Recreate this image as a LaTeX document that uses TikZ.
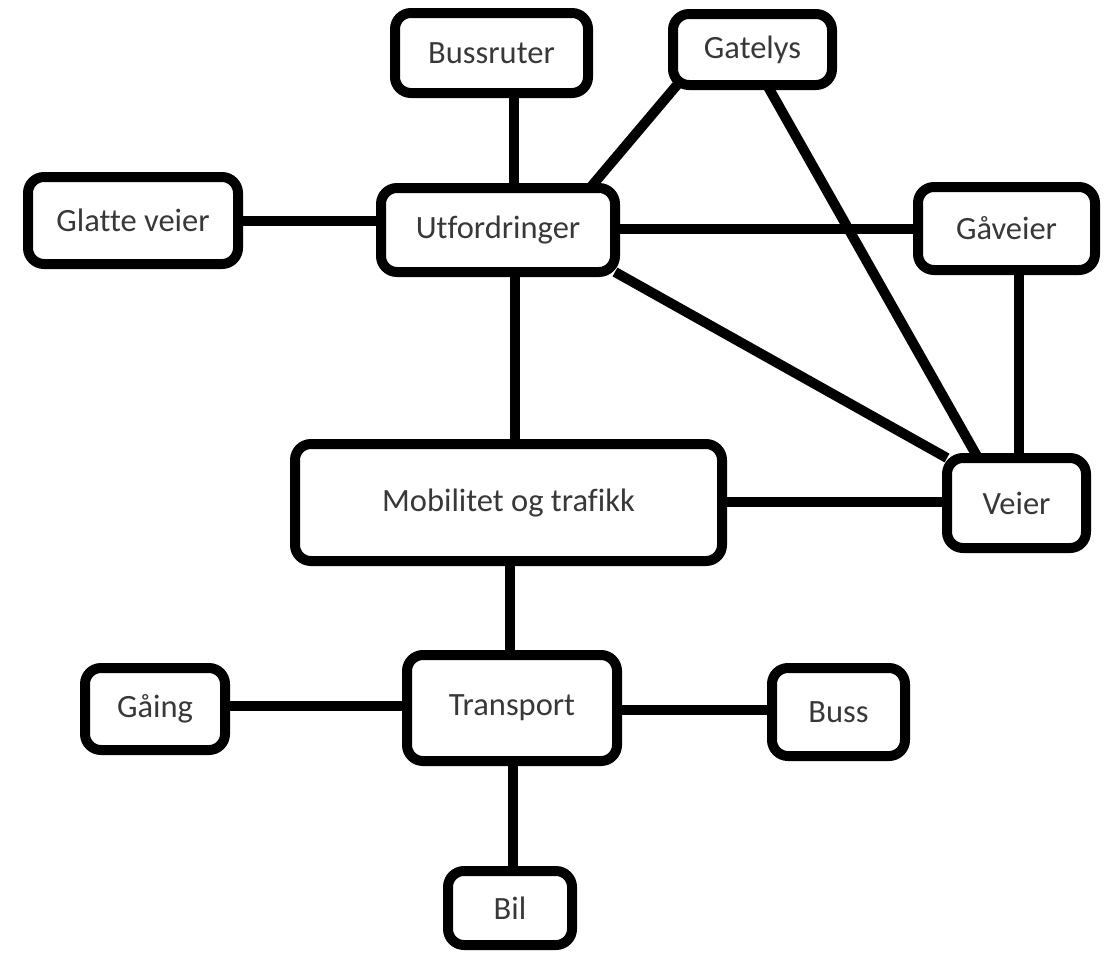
\documentclass[tikz,border=0pt]{standalone}
\usepackage{fontspec}
\setmainfont{Carlito}[Ligatures=CommonOff]
\usetikzlibrary{backgrounds}
\begin{document}
\begin{tikzpicture}[x=1pt,y=-1pt,
  box/.style={draw=black, line width=10pt, fill=white, rounded corners=16pt,
    inner sep=0pt, outer sep=0pt, text=black!78,
    font=\fontsize{32.5}{38}\selectfont},
  link/.style={line width=10pt, draw=black}]
\useasboundingbox (0,0) rectangle (1110,956);
\node[box, minimum width=193pt, minimum height=80pt]  (bru) at (491.5,53)   {Bussruter};
\node[box, minimum width=159pt, minimum height=71pt]  (gat) at (752.5,49.5) {Gatelys};
\node[box, minimum width=210pt, minimum height=87pt]  (gla) at (133,220.5)  {Glatte veier};
\node[box, minimum width=234pt, minimum height=84pt]  (utf) at (498,230)    {Utfordringer};
\node[box, minimum width=177pt, minimum height=83pt]  (gav) at (1006.5,228.5) {Gåveier};
\node[box, minimum width=427pt, minimum height=117pt] (mob) at (508.5,502.5) {Mobilitet og trafikk};
\node[box, minimum width=139pt, minimum height=90pt]  (vei) at (1016.5,503) {Veier};
\node[box, minimum width=140pt, minimum height=82pt]  (gai) at (155,709)    {Gåing};
\node[box, minimum width=210pt, minimum height=106pt] (tra) at (512,708)    {Transport};
\node[box, minimum width=133pt, minimum height=88pt]  (bus) at (838.5,712)  {Buss};
\node[box, minimum width=124pt, minimum height=74pt]  (bil) at (510,908)    {Bil};
\begin{scope}[on background layer]
\draw[link] ([xshift=22.5pt]bru.south) -- ([xshift=22.5pt]bru.south |- utf.north);
\draw[link] (gla.east) -- (gla.east -| utf.west);
\draw[link] ([xshift=-75.5pt]gat.south) -- ([xshift=92pt]utf.north);
\draw[link] ([yshift=1pt]utf.east) -- ([yshift=1pt]utf.east -| gav.west);
\draw[link] ([xshift=14.5pt]gat.south) -- ([xshift=-38.5pt]vei.north);
\draw[link] (utf.south east) -- (vei.north west);
\draw[link] ([xshift=12.5pt]gav.south) -- ([xshift=12.5pt]gav.south |- vei.north);
\draw[link] ([xshift=17pt]utf.south) -- ([xshift=17pt]utf.south |- mob.north);
\draw[link] ([yshift=1pt]mob.east) -- ([yshift=1pt]mob.east -| vei.west);
\draw[link] ([xshift=1.5pt]mob.south) -- ([xshift=1.5pt]mob.south |- tra.north);
\draw[link] ([yshift=3pt]gai.east) -- ([yshift=3pt]gai.east -| tra.west);
\draw[link] ([yshift=-2pt]tra.east) -- ([yshift=2pt]bus.west);
\draw[link] ([xshift=1pt]tra.south) -- ([xshift=1pt]tra.south |- bil.north);
\end{scope}
\end{tikzpicture}
\end{document}
